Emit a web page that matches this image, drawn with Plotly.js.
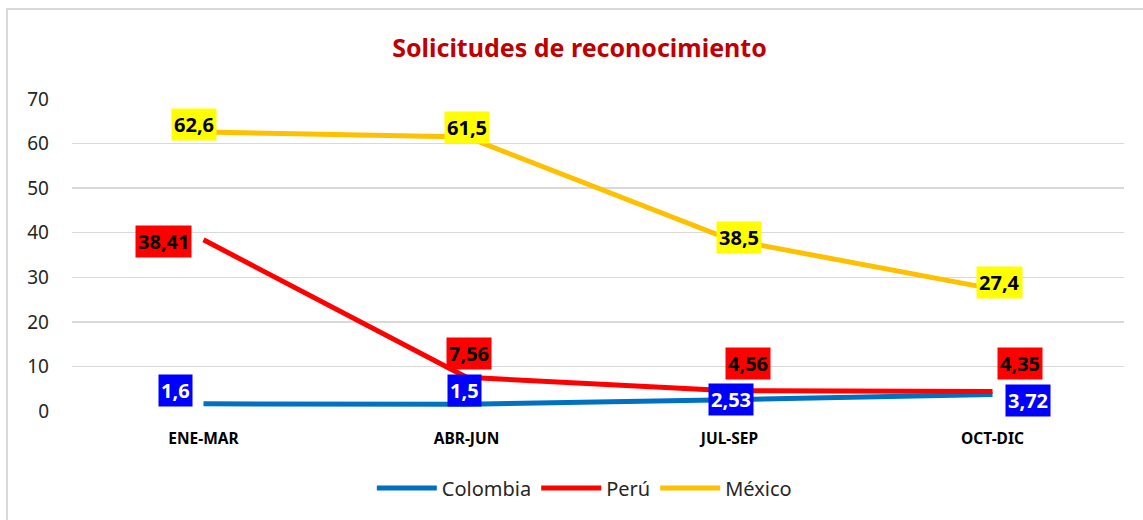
<!DOCTYPE html>
<html>
<head>
<meta charset="utf-8">
<script src="https://cdn.plot.ly/plotly-3.0.1.min.js"></script>
<style>
html,body{margin:0;padding:0;background:#fff;overflow:hidden;}
#chart{width:1143px;height:520px;}
#frame{position:absolute;left:6px;top:8px;width:1160px;height:540px;border:2px solid #d9d9d9;pointer-events:none;}
</style>
</head>
<body>
<div id="chart"></div>
<div id="frame"></div>
<script>
const categories = ["ENE-MAR", "ABR-JUN", "JUL-SEP", "OCT-DIC"];
const seriesNames = ["Colombia", "Perú", "México"];
const colombia = [1.6, 1.5, 2.53, 3.72];
const peru = [38.41, 7.56, 4.56, 4.35];
const mexico = [62.6, 61.5, 38.5, 27.4];
const yTicks = [0, 10, 20, 30, 40, 50, 60, 70];

const values = [colombia, peru, mexico];
const lineColors = ["#0070c0", "#ff0000", "#ffc000"];
const labelBg = ["#0000ff", "#ff0000", "#ffff00"];
const labelFg = ["#ffffff", "#000000", "#000000"];
// label offsets (pixels) relative to each point
const offsets = [
  [[-28, 13], [-2, 14], [1, 0], [35, -6]],
  [[-40, -2], [2, 24], [18, 27], [27, 28]],
  [[-10, 7], [0, 9], [9, 2], [7, 6]]
];

const traces = values.map((v, i) => ({
  type: "scatter", mode: "lines", name: seriesNames[i],
  x: categories, y: v,
  line: {color: lineColors[i], width: 5},
  hoverinfo: "skip"
}));

const annotations = [];
values.forEach((v, i) => {
  v.forEach((val, j) => {
    annotations.push({
      x: categories[j], y: val, xref: "x", yref: "y",
      text: String(val).replace(".", ","),
      showarrow: false,
      xshift: offsets[i][j][0], yshift: offsets[i][j][1],
      bgcolor: labelBg[i], borderpad: 2,
      font: {family: "Noto Sans", size: 20, color: labelFg[i], weight: "bold"}
    });
  });
});

const layout = {
  width: 1143, height: 520,
  margin: {l: 72, r: 19, t: 99, b: 109},
  paper_bgcolor: "#ffffff", plot_bgcolor: "#ffffff",
  title: {
    text: "Solicitudes de reconocimiento",
    font: {family: "Noto Sans", size: 25, color: "#c00000", weight: "bold"},
    x: 0.507, xref: "container", xanchor: "center",
    y: 0.908, yref: "container", yanchor: "middle"
  },
  xaxis: {
    type: "category", range: [-0.5, 3.5],
    showgrid: false, showline: false, zeroline: false,
    ticks: "", ticklabelstandoff: 16,
    tickfont: {family: "Noto Sans", size: 15.5, color: "#000000", weight: "bold"},
    fixedrange: true
  },
  yaxis: {
    range: [0, 70], tickvals: yTicks, ticktext: yTicks.map(String),
    showgrid: true, gridcolor: "#d9d9d9", gridwidth: 1.5,
    zeroline: false, showline: false, ticks: "", ticklabelstandoff: 22,
    tickfont: {family: "Noto Sans", size: 19, color: "#262626"},
    fixedrange: true
  },
  showlegend: true,
  legend: {
    orientation: "h", x: 0.487, xanchor: "center", y: -0.247, yanchor: "middle",
    font: {family: "Noto Sans", size: 20, color: "#262626"},
    itemwidth: 60, tracegroupgap: 0
  },
  annotations: annotations
};

Plotly.newPlot("chart", traces, layout, {displayModeBar: false, staticPlot: true});
</script>
</body>
</html>
